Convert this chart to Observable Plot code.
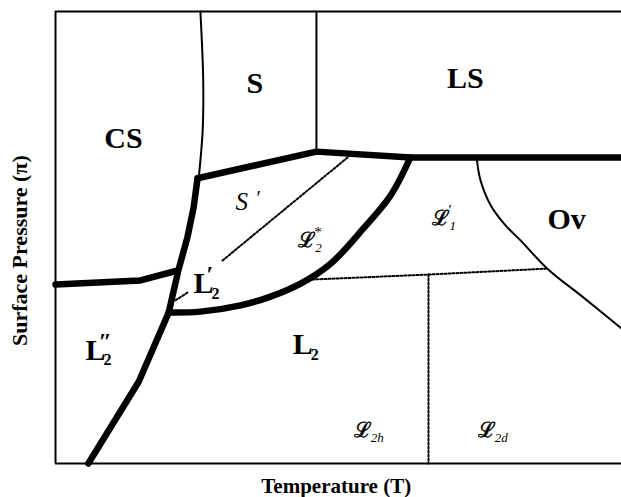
<!DOCTYPE html>
<html><head><meta charset="utf-8">
<script src="https://cdn.jsdelivr.net/npm/d3@7"></script>
<script src="https://cdn.jsdelivr.net/npm/@observablehq/plot@0.6"></script>
<style>body{margin:0;background:#fff} svg{display:block}</style>
</head><body><div id="chart"></div>
<script>
// Phase boundaries as [Temperature, Surface pressure] in relative units (0–100)
const csSBoundary   = [[25.6,100],[26.1,84.7],[26.0,73.7],[25.3,63.1]];
const sLsBoundary   = [[46.1,100],[46.1,69.0]];
const upperBoundary = [[25.1,63.1],[46.1,69.0],[62.7,67.7],[100,67.7]];
const leftBoundary  = [[5.8,0],[14.7,18.1],[20.0,33.4],[21.7,42.7],[23.3,50.0],[24.4,56.6],[25.1,63.1]];
const csL2Boundary  = [[0,39.6],[15.0,40.5],[21.6,42.7]];
const l2Boundary    = [[20.0,33.4],[25.6,33.6],[32.7,35.0],[37.5,36.7],[43.3,39.8],[48.6,44.2],[54.4,52.0],[59.2,59.3],[62.7,67.7]];
const ovBoundary    = [[74.4,67.7],[75.1,62.6],[76.9,57.1],[79.5,52.7],[82.2,49.3],[86.9,43.1],[93.3,36.7],[100,29.9]];
const dottedDiagA   = [[51.6,67.7],[29.5,44.9]];
const dottedDiagB   = [[23.3,37.8],[21.2,36.1]];
const dottedHoriz   = [[45.4,40.7],[65.9,41.8],[86.6,43.1]];
const dottedVert    = [[65.9,41.8],[65.9,0]];

// Region labels
const phaseLabels  = [
  {name:"CS", T:12.0, P:71.9},
  {name:"S",  T:35.2, P:84.1},
  {name:"LS", T:72.4, P:85.3},
  {name:"Ov", T:90.3, P:54.0}
];
const boldLabels   = [
  {base:"L", sub:"2", sup:"′", T:24.4, P:39.8},
  {base:"L", sub:"2", sup:"″", T:5.3,  P:25.1},
  {base:"L", sub:"2", sup:"",  T:41.9, P:26.3}
];
const scriptLabels = [
  {base:"ℒ", sub:"2h", sup:"",  T:52.7, P:7.3},
  {base:"ℒ", sub:"2d", sup:"",  T:74.6, P:7.3},
  {base:"ℒ", sub:"2",  sup:"*", T:42.9, P:49.3},
  {base:"ℒ", sub:"1",  sup:"′", T:66.6, P:54.2}
];
const sPrimeLabel  = [{base:"S", sup:"′", T:31.8, P:57.9}];
const xTitle = [{text:"Temperature (T)", T:49.6, P:-5.1}];
const yTitle = [{text:"Surface Pressure (π)", T:-6.2, P:47.1}];

const serif = "Liberation Serif, Times New Roman, serif";
const scriptFont = "DejaVu Serif, serif";
const px = d => d[0], py = d => d[1];

const thick = {x:px, y:py, stroke:"black", strokeWidth:6.5, strokeLinejoin:"round"};
const thin  = {x:px, y:py, stroke:"black", strokeWidth:2};
const dots  = {x:px, y:py, stroke:"black", strokeWidth:2, strokeDasharray:"2,2"};

const chart = Plot.plot({
  width: 621, height: 497,
  marginLeft: 55, marginRight: 0, marginTop: 11, marginBottom: 34,
  x: {domain:[0,100], axis:null},
  y: {domain:[0,100], axis:null},
  style: {background:"white", overflow:"visible"},
  marks: [
    Plot.ruleX([0], {stroke:"black", strokeWidth:2}),
    Plot.ruleY([0, 100], {stroke:"black", strokeWidth:2}),
    Plot.line(dottedDiagA, dots),
    Plot.line(dottedDiagB, dots),
    Plot.line(dottedHoriz, dots),
    Plot.line(dottedVert, dots),
    Plot.line(csSBoundary, {...thin, curve:"catmull-rom"}),
    Plot.line(sLsBoundary, thin),
    Plot.line(ovBoundary, {...thin, curve:"catmull-rom"}),
    Plot.line(upperBoundary, thick),
    Plot.line(leftBoundary, thick),
    Plot.line(csL2Boundary, thick),
    Plot.line(l2Boundary, {...thick, curve:"catmull-rom"}),
    Plot.text(phaseLabels, {x:"T", y:"P", text:"name", fontSize:30, fontWeight:"bold", fontFamily:serif}),
    Plot.text(boldLabels, {x:"T", y:"P", text:"base", textAnchor:"start", fontSize:30, fontWeight:"bold", fontFamily:serif}),
    Plot.text(boldLabels, {x:"T", y:"P", text:"sub", textAnchor:"start", dx:18, dy:10, fontSize:16, fontWeight:"bold", fontFamily:serif}),
    Plot.text(boldLabels, {x:"T", y:"P", text:"sup", textAnchor:"start", dx:13, dy:-9, fontSize:24, fontWeight:"bold", fontFamily:serif}),
    Plot.text(scriptLabels, {x:"T", y:"P", text:"base", textAnchor:"start", fontSize:21, fontFamily:scriptFont, fill:"black", stroke:"black", strokeWidth:0.6}),
    Plot.text(scriptLabels, {x:"T", y:"P", text:"sub", textAnchor:"start", dx:17, dy:7, fontSize:13, fontStyle:"italic", fontFamily:serif}),
    Plot.text(scriptLabels, {x:"T", y:"P", text:"sup", textAnchor:"start", dx:16, dy:-8, fontSize:15, fontFamily:serif}),
    Plot.text(sPrimeLabel, {x:"T", y:"P", text:"base", textAnchor:"start", fontSize:25, fontStyle:"italic", fontFamily:serif}),
    Plot.text(sPrimeLabel, {x:"T", y:"P", text:"sup", textAnchor:"start", dx:21, dy:-3, fontSize:20, fontFamily:serif}),
    Plot.text(xTitle, {x:"T", y:"P", text:"text", fontSize:21, fontWeight:"bold", fontFamily:serif}),
    Plot.text(yTitle, {x:"T", y:"P", text:"text", rotate:-90, fontSize:22, fontWeight:"bold", fontFamily:serif})
  ]
});
document.getElementById("chart").appendChild(chart);
</script>
</body></html>
